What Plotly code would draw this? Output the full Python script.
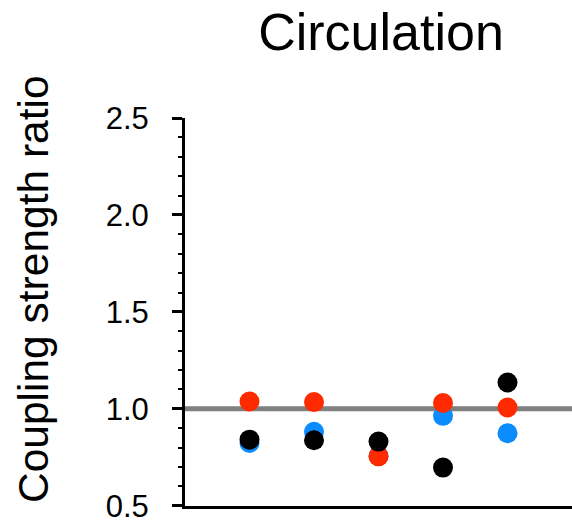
import plotly.graph_objects as go

groups = [1, 2, 3, 4, 5]
blue_vals = [0.824, 0.882, 0.757, 0.964, 0.874]
red_vals = [1.038, 1.035, 0.755, 1.030, 1.007]
black_vals = [0.841, 0.838, 0.831, 0.697, 1.136]
ref_value = 1.0
y_ticks = [0.5, 1.0, 1.5, 2.0, 2.5]
y_tick_text = ["0.5", "1.0", "1.5", "2.0", "2.5"]
title_text = "Circulation"
ytitle_text = "Coupling strength ratio"

FONT = "Liberation Sans, Arial, Helvetica, sans-serif"

L, T, B = 185, 118, 17
W, H = 572, 523
PW, PH = W - L, H - T - B

fig = go.Figure()
for vals, col in [(blue_vals, "#0A8CFF"), (red_vals, "#FF2A00"), (black_vals, "#000000")]:
    fig.add_trace(go.Scatter(
        x=groups, y=vals, mode="markers",
        marker=dict(size=20, color=col, line=dict(width=0)),
        showlegend=False, cliponaxis=False,
    ))

fig.add_shape(type="line", xref="paper", yref="y", x0=0, x1=1, y0=ref_value, y1=ref_value,
              line=dict(color="#808080", width=5), layer="below")

fig.update_layout(
    width=W, height=H,
    margin=dict(l=L, r=0, t=T, b=B),
    plot_bgcolor="white", paper_bgcolor="white",
    font=dict(family=FONT, color="black"),
    title=dict(text=title_text, font=dict(size=52, family=FONT, color="black"),
               x=381/W, xanchor="center", y=1-32/H, yanchor="middle",
               xref="container", yref="container"),
    xaxis=dict(range=[0, 6], showline=True, linecolor="black", linewidth=3,
               showticklabels=False, ticks="", showgrid=False, zeroline=False),
    yaxis=dict(range=[0.499, 2.5], showline=True, linecolor="black", linewidth=3,
               tickvals=y_ticks, ticktext=y_tick_text, ticks="outside", ticklen=10,
               tickwidth=3, tickcolor="black", tickfont=dict(size=31, family=FONT),
               ticklabelstandoff=17, ticklabeloverflow="allow",
               minor=dict(dtick=0.1, ticks="outside", ticklen=4, tickwidth=2, tickcolor="black",
                          showgrid=False),
               showgrid=False, zeroline=False),
)

fig.add_annotation(text=ytitle_text, xref="paper", yref="paper",
                   x=(33-L)/PW, y=(H-B-289)/PH, xanchor="center", yanchor="middle",
                   textangle=-90, showarrow=False, font=dict(size=42.5, family=FONT, color="black"))

fig.write_html("out.html")
